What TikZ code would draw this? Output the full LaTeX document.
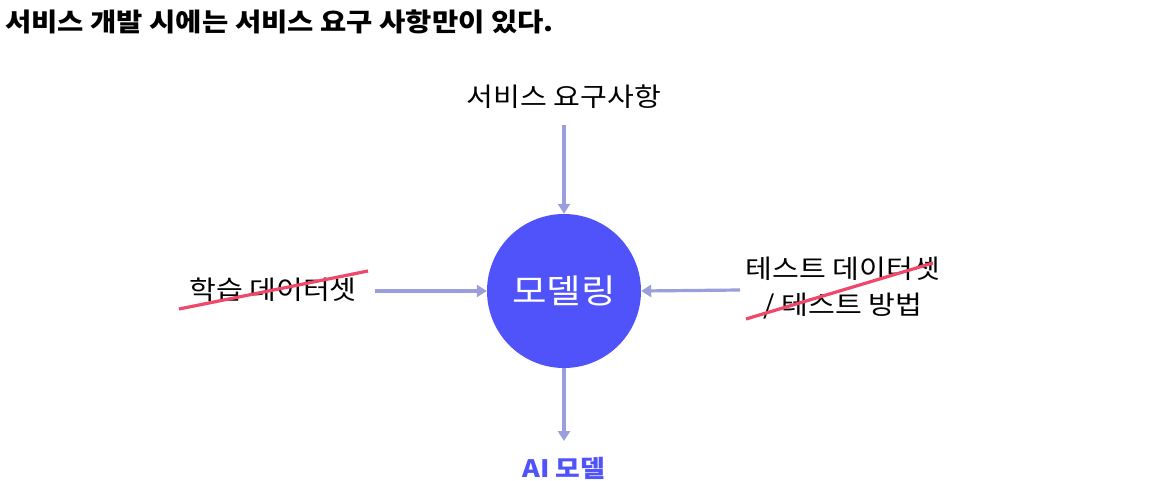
\documentclass[tikz,border=0pt]{standalone}
\usepackage{fontspec}
\setmainfont{Noto Sans CJK KR}[FakeStretch=1.12]
\usetikzlibrary{arrows.meta}
\definecolor{flow}{HTML}{9A9EDC}
\definecolor{core}{HTML}{5052FA}
\definecolor{strike}{HTML}{F0476A}
\tikzset{
  lbl/.style={inner sep=0pt, font=\fontsize{26}{36}\selectfont, text=black},
  flowarrow/.style={draw=flow, line width=3.2pt, -{Triangle[length=10pt,width=12pt]}},
  strikeline/.style={draw=strike, line width=3.2pt},
}
\begin{document}
\begin{tikzpicture}[x=1pt,y=-1pt]
\useasboundingbox (0,0) rectangle (1151,480);
\node[inner sep=0pt, anchor=base west, font=\fontsize{25.5}{30}\selectfont\bfseries] (title) at (5,31) {서비스 개발 시에는 서비스 요구 사항만이 있다.};
\node[circle, fill=core, minimum size=154pt, inner sep=0pt, text=white, font=\fontsize{33.5}{40}\selectfont] (model) at (564,291) {모델링};
\node[lbl] (req) at (564,97) {서비스 요구사항};
\node[lbl] (train) at (273,290) {학습 데이터셋};
\node[lbl, align=center] (test) at (843,288) {테스트 데이터셋\\/ 테스트 방법};
\node[inner sep=0pt, text=core, font=\fontsize{24}{28}\selectfont\bfseries] (ai) at (564,468) {AI 모델};
\coordinate (reqE) at (564,125);
\coordinate (trainE) at (375,291);
\coordinate (testE) at (740,290);
\coordinate (aiE) at (564,441);
\draw[flowarrow] (reqE) -- (model.north);
\draw[flowarrow] (trainE) -- (model.west);
\draw[flowarrow] (testE) -- (model.east);
\draw[flowarrow] (model.south) -- (aiE);
\coordinate (s1a) at (179,309);
\coordinate (s1b) at (368,271);
\coordinate (s2a) at (746,319);
\coordinate (s2b) at (933,263);
\draw[strikeline] (s1a) -- (s1b);
\draw[strikeline] (s2a) -- (s2b);
\end{tikzpicture}
\end{document}
